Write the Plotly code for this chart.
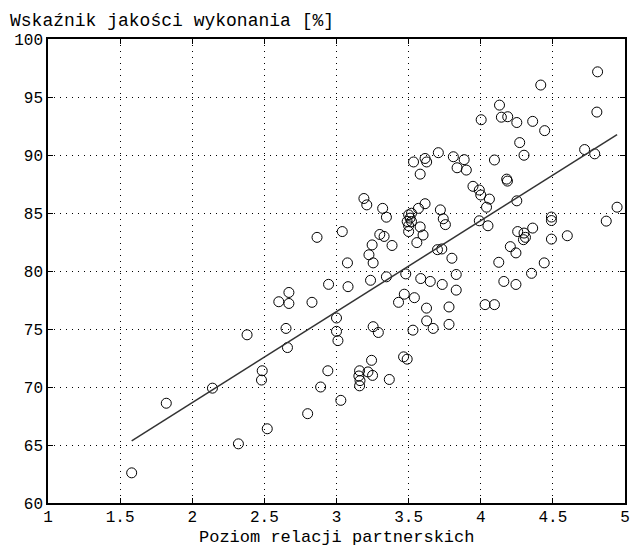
import numpy as np
import plotly.graph_objects as go

# Poziom relacji partnerskich (x) and Wskaźnik jakości wykonania [%] (y)
relacje = [
    1.58, 1.82, 2.14, 2.32, 2.38, 2.485, 2.48, 2.52, 2.60, 2.65,
    2.66, 2.67, 2.67, 2.80, 2.83, 2.865, 2.89, 2.94, 2.945, 3.00,
    3.00, 3.01, 3.03, 3.04, 3.076, 3.08, 3.16, 3.155, 3.163, 3.16,
    3.218, 3.25, 3.366, 3.243, 3.19, 3.21, 3.225, 3.247, 3.254, 3.236,
    3.254, 3.29, 3.30, 3.33, 3.385, 3.32, 3.346, 3.346, 3.43, 3.47,
    3.465, 3.49, 3.48, 3.50, 3.52, 3.51, 3.49, 3.52, 3.50, 3.50,
    3.53, 3.534, 3.54, 3.557, 3.568, 3.58, 3.58, 3.584, 3.60, 3.614,
    3.614, 3.625, 3.624, 3.625, 3.65, 3.67, 3.70, 3.73, 3.706, 3.72,
    3.74, 3.755, 3.733, 3.78, 3.78, 3.80, 3.81, 3.83, 3.83, 3.836,
    3.885, 3.90, 3.946, 3.99, 4.00, 3.99, 4.003, 4.03, 4.04, 4.05,
    4.06, 4.095, 4.095, 4.125, 4.13, 4.143, 4.16, 4.18, 4.185, 4.187,
    4.205, 4.244, 4.244, 4.25, 4.25, 4.256, 4.27, 4.30, 4.30, 4.296,
    4.31, 4.36, 4.352, 4.36, 4.416, 4.44, 4.443, 4.49, 4.49, 4.49,
    4.60, 4.72, 4.79, 4.805, 4.81, 4.87, 4.945,
]
jakosc = [
    62.6, 68.6, 69.9, 65.1, 74.5, 71.4, 70.6, 66.4, 77.35, 75.05,
    73.4, 78.15, 77.2, 67.7, 77.3, 82.9, 70.0, 71.4, 78.85, 75.95,
    74.8, 74.0, 68.85, 83.4, 80.7, 78.65, 71.4, 70.95, 70.55, 70.1,
    71.3, 71.0, 70.65, 72.3, 86.25, 85.7, 81.4, 82.25, 80.7, 79.2,
    75.2, 74.7, 83.15, 82.98, 82.2, 85.4, 84.64, 79.5, 77.3, 78.0,
    72.6, 72.4, 79.75, 84.84, 84.98, 84.56, 84.27, 84.27, 83.9, 83.4,
    74.9, 89.4, 77.7, 82.45, 85.4, 83.8, 88.35, 79.35, 83.1, 85.8,
    89.7, 89.4, 76.8, 75.7, 79.1, 75.05, 81.84, 81.9, 90.2, 85.27,
    84.5, 84.0, 78.84, 76.9, 75.4, 81.1, 89.85, 79.7, 78.35, 88.9,
    89.6, 88.7, 87.3, 86.98, 86.55, 84.33, 93.04, 77.1, 85.5, 83.9,
    86.2, 77.1, 89.57, 80.75, 94.3, 93.26, 79.1, 87.92, 87.75, 93.3,
    82.1, 81.56, 78.84, 86.05, 92.8, 83.4, 91.07, 89.98, 83.27, 82.7,
    82.9, 83.7, 79.8, 92.9, 96.03, 80.7, 92.1, 84.65, 84.35, 82.75,
    83.04, 90.47, 90.1, 93.7, 97.17, 84.3, 85.5,
]

x_ticks = [1, 1.5, 2, 2.5, 3, 3.5, 4, 4.5, 5]
x_tick_labels = ["1", "1.5", "2", "2.5", "3", "3.5", "4", "4.5", "5"]
y_ticks = [60, 65, 70, 75, 80, 85, 90, 95, 100]
y_tick_labels = ["60", "65", "70", "75", "80", "85", "90", "95", "100"]

y_title = "Wskaźnik jakości wykonania [%]"
x_title = "Poziom relacji partnerskich"

xa = np.array(relacje)
ya = np.array(jakosc)
slope, intercept = np.polyfit(xa, ya, 1)
fit_x = [xa.min(), xa.max()]
fit_y = [slope * v + intercept for v in fit_x]

FONT = "Liberation Mono"

fig = go.Figure()
fig.add_trace(go.Scatter(
    x=relacje, y=jakosc, mode="markers",
    marker=dict(symbol="circle-open", size=10, color="black",
                line=dict(width=1, color="black")),
    showlegend=False, hoverinfo="skip",
))
fig.add_trace(go.Scatter(
    x=fit_x, y=fit_y, mode="lines",
    line=dict(color="#333333", width=1.5),
    showlegend=False, hoverinfo="skip",
))

axis_common = dict(
    showline=True, linecolor="black", linewidth=1.5, mirror="ticks",
    ticks="inside", ticklen=5, tickwidth=1, tickcolor="black",
    showgrid=True, gridcolor="black", gridwidth=1, griddash="1px,5px",
    zeroline=False, ticklabeloverflow="allow",
    tickfont=dict(family=FONT, size=16, color="black"),
)

fig.update_xaxes(range=[1, 5], tickvals=x_ticks, ticktext=x_tick_labels,
                 ticklabelstandoff=-2, **axis_common)
fig.update_yaxes(range=[60, 100], tickvals=y_ticks, ticktext=y_tick_labels,
                 **axis_common)

fig.update_layout(
    width=632, height=547,
    margin=dict(l=48, r=2, t=39, b=44),
    paper_bgcolor="white", plot_bgcolor="white",
    annotations=[
        dict(text=y_title, xref="paper", yref="paper", x=0, y=1,
             xanchor="left", yanchor="middle", xshift=-40, yshift=18,
             showarrow=False, font=dict(family=FONT, size=18, color="black")),
        dict(text=x_title, xref="paper", yref="paper", x=0.5, y=0,
             xanchor="center", yanchor="middle", yshift=-34,
             showarrow=False, font=dict(family=FONT, size=17, color="black")),
    ],
)

fig.write_html("out.html")
